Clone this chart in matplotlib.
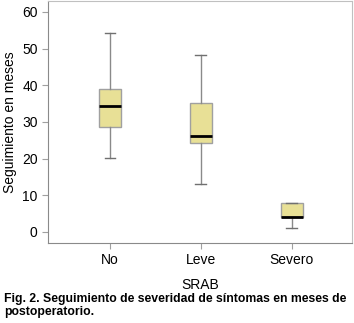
import matplotlib
matplotlib.use("Agg")
import matplotlib.pyplot as plt

plt.rcParams['font.family'] = ['Liberation Sans', 'DejaVu Sans']

categories = ['No', 'Leve', 'Severo']
whislo = [20.2, 13.1, 1.1]
q1 = [28.6, 24.3, 4.0]
med = [34.3, 26.2, 4.1]
q3 = [39.1, 35.2, 7.9]
whishi = [54.3, 48.3, 7.9]

stats = []
for i, c in enumerate(categories):
    stats.append({'label': c, 'whislo': whislo[i], 'q1': q1[i], 'med': med[i],
                  'q3': q3[i], 'whishi': whishi[i], 'fliers': []})

fig = plt.figure(figsize=(3.54, 3.23), dpi=100)
ax = fig.add_axes([0.136, 0.248, 0.858, 0.749])

ax.bxp(stats, positions=[1, 2, 3], widths=0.24, patch_artist=True,
       boxprops=dict(facecolor='#e8e096', edgecolor='#a0a0a0', linewidth=1),
       medianprops=dict(color='black', linewidth=2),
       whiskerprops=dict(color='#8a8a8a', linewidth=1),
       capprops=dict(color='#707070', linewidth=1),
       capwidths=0.12)

ax.set_xlim(0.32, 3.66)
ax.set_ylim(-3, 63)
ax.set_yticks([0, 10, 20, 30, 40, 50, 60])
ax.tick_params(labelsize=10, color='#a0a0a0', length=4)
for s in ['left', 'bottom']:
    ax.spines[s].set_color('#8a8a8a')
for s in ['top', 'right']:
    ax.spines[s].set_color('#c0c0c0')
ax.set_ylabel('Seguimiento en meses', fontsize=10)
ax.set_xlabel('SRAB', fontsize=10)
ax.xaxis.set_label_coords(0.5, -0.147)

fig.text(0.011, 0.054, 'Fig. 2. Seguimiento de severidad de síntomas en meses de\npostoperatorio.',
         fontsize=8.85, fontweight='bold', va='center', linespacing=1.1)

fig.savefig('out.png', dpi=100)
